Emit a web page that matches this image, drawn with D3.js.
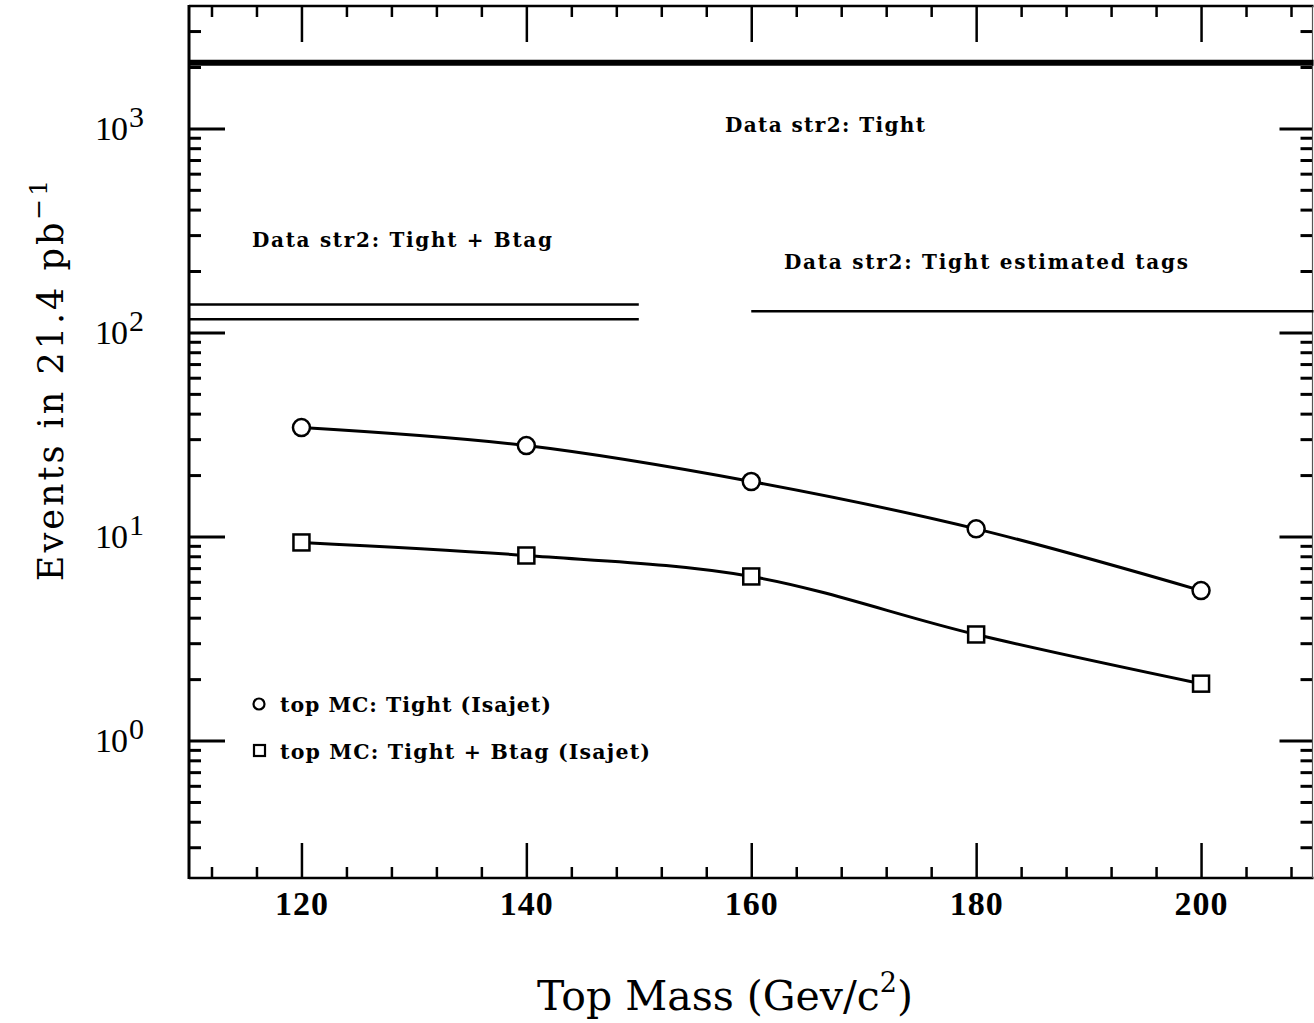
<!DOCTYPE html>
<html>
<head>
<meta charset="utf-8">
<script src="https://cdn.jsdelivr.net/npm/d3@7"></script>
<style>
  html, body { margin: 0; padding: 0; background: #fff; }
  svg { display: block; }
</style>
</head>
<body>
<svg id="chart" width="1314" height="1023"></svg>
<script>
// ---------------- DATA ----------------
const topMass = [120, 140, 160, 180, 200];
const tightMC = [34.2, 27.9, 18.6, 10.9, 5.43];          // circles: top MC Tight (Isajet)
const tightBtagMC = [9.35, 8.07, 6.37, 3.31, 1.90];      // squares: top MC Tight + Btag (Isajet)
const dataTightLevel = [2100];                           // Data str2: Tight (full range)
const dataTightBtagLevels = [137, 116];                  // Data str2: Tight + Btag (110-150)
const dataTightBtagRange = [110, 150];
const dataEstTagsLevel = [127];                          // Data str2: Tight estimated tags (160-210)
const dataEstTagsRange = [160, 210];
const xMajorTicks = [120, 140, 160, 180, 200];
const xMinorTicks = [112, 116, 124, 128, 132, 136, 144, 148, 152, 156, 164, 168, 172, 176, 184, 188, 192, 196, 204, 208];
const yMajorTicks = [1, 10, 100, 1000];
const yMajorExponents = ["0", "1", "2", "3"];
const yMinorTicks = [0.3, 0.4, 0.5, 0.6, 0.7, 0.8, 0.9, 2, 3, 4, 5, 6, 7, 8, 9,
                     20, 30, 40, 50, 60, 70, 80, 90, 200, 300, 400, 500, 600, 700, 800, 900, 2000, 3000];

// ---------------- LAYOUT ----------------
const svg = d3.select("#chart");
const L = 189, R = 1313.5, T = 6, B = 878;
const x = d3.scaleLinear().domain([110, 210]).range([L, R]);
const y = d3.scaleLog().domain([0.212, 3980]).range([B, T]);

const numFont = "'Liberation Serif', 'Times New Roman', serif";
const titleFont = "'DejaVu Serif', serif";

// ---------------- AXES (inward ticks) ----------------
function styleAxis(g, w) {
  g.select(".domain").remove();
  g.selectAll(".tick line").attr("stroke", "#000").attr("stroke-width", w);
}
// bottom
svg.append("g").attr("transform", `translate(0,${B})`)
  .call(d3.axisBottom(x).tickValues(xMajorTicks).tickSize(-35).tickPadding(14).tickFormat(d3.format("d")))
  .call(g => { styleAxis(g, 2.5);
    g.selectAll("text").attr("font-family", numFont).attr("font-weight", "bold")
      .attr("font-size", 34).attr("fill", "#000").attr("dy", "0.69em").attr("letter-spacing", 1); });
svg.append("g").attr("transform", `translate(0,${B})`)
  .call(d3.axisBottom(x).tickValues(xMinorTicks).tickSize(-11).tickFormat(""))
  .call(g => styleAxis(g, 2.5));
// top
svg.append("g").attr("transform", `translate(0,${T})`)
  .call(d3.axisTop(x).tickValues(xMajorTicks).tickSize(-36).tickFormat(""))
  .call(g => styleAxis(g, 2.5));
svg.append("g").attr("transform", `translate(0,${T})`)
  .call(d3.axisTop(x).tickValues(xMinorTicks).tickSize(-11).tickFormat(""))
  .call(g => styleAxis(g, 2.5));
// left
svg.append("g").attr("transform", `translate(${L},0)`)
  .call(d3.axisLeft(y).tickValues(yMajorTicks).tickSize(-36).tickFormat(""))
  .call(g => styleAxis(g, 3));
svg.append("g").attr("transform", `translate(${L},0)`)
  .call(d3.axisLeft(y).tickValues(yMinorTicks).tickSize(-12).tickFormat(""))
  .call(g => styleAxis(g, 3));
// right
svg.append("g").attr("transform", `translate(${R - 1},0)`)
  .call(d3.axisRight(y).tickValues(yMajorTicks).tickSize(-33).tickFormat(""))
  .call(g => styleAxis(g, 3));
svg.append("g").attr("transform", `translate(${R - 1},0)`)
  .call(d3.axisRight(y).tickValues(yMinorTicks).tickSize(-12).tickFormat(""))
  .call(g => styleAxis(g, 3));

// frame
svg.append("line").attr("x1", L).attr("x2", L).attr("y1", T - 1).attr("y2", B + 1).attr("stroke", "#000").attr("stroke-width", 3);
svg.append("line").attr("x1", L).attr("x2", R).attr("y1", T).attr("y2", T).attr("stroke", "#000").attr("stroke-width", 2.5);
svg.append("line").attr("x1", L).attr("x2", R).attr("y1", B).attr("y2", B).attr("stroke", "#000").attr("stroke-width", 2.5);
svg.append("line").attr("x1", R - 1).attr("x2", R - 1).attr("y1", T).attr("y2", B).attr("stroke", "#555").attr("stroke-width", 1.2);

// y tick labels 10^n
yMajorTicks.forEach((v, i) => {
  const t = svg.append("text").attr("x", 95).attr("y", y(v) + 11.5)
    .attr("text-anchor", "start").attr("font-family", numFont).attr("fill", "#000");
  t.append("tspan").attr("font-size", 34).attr("letter-spacing", -1).text("10");
  t.append("tspan").attr("font-size", 30).attr("dx", 2).attr("dy", -13).text(yMajorExponents[i]);
});

// axis titles
const xt = svg.append("text").attr("x", 725).attr("y", 1010).attr("text-anchor", "middle")
  .attr("font-family", titleFont).attr("font-size", 41).attr("fill", "#000");
xt.append("tspan").text("Top Mass (Gev/c");
xt.append("tspan").attr("font-size", 27).attr("dy", -18).text("2");
xt.append("tspan").attr("dy", 18).text(")");

const yt = svg.append("text").attr("transform", `translate(63,379) rotate(-90)`).attr("text-anchor", "middle")
  .attr("font-family", titleFont).attr("font-size", 35).attr("letter-spacing", 3).attr("fill", "#000");
yt.append("tspan").text("Events in 21.4 pb");
yt.append("tspan").attr("font-size", 25).attr("dy", -16).text("\u22121");

// ---------------- DATA LEVEL LINES ----------------
svg.append("line").attr("x1", x(110)).attr("x2", x(210))
  .attr("y1", y(dataTightLevel[0])).attr("y2", y(dataTightLevel[0]))
  .attr("stroke", "#000").attr("stroke-width", 6);
dataTightBtagLevels.forEach(v => {
  svg.append("line").attr("x1", x(dataTightBtagRange[0])).attr("x2", x(dataTightBtagRange[1]))
    .attr("y1", y(v)).attr("y2", y(v)).attr("stroke", "#000").attr("stroke-width", 2.5);
});
svg.append("line").attr("x1", x(dataEstTagsRange[0])).attr("x2", x(dataEstTagsRange[1]))
  .attr("y1", y(dataEstTagsLevel[0])).attr("y2", y(dataEstTagsLevel[0]))
  .attr("stroke", "#000").attr("stroke-width", 2.5);

// annotation labels
const annFont = "'DejaVu Serif', serif";
function ann(xp, yp, txt, len, fs) {
  svg.append("text").attr("x", xp).attr("y", yp).attr("font-family", annFont)
    .attr("font-weight", "bold").attr("font-size", fs).attr("fill", "#000")
    .attr("textLength", len).attr("lengthAdjust", "spacing").text(txt);
}
ann(725, 132, "Data str2: Tight", 200, 20);
ann(252, 247, "Data str2: Tight + Btag", 300, 20);
ann(784, 269, "Data str2: Tight estimated tags", 404, 20);

// ---------------- MC CURVES ----------------
const line = d3.line().x(d => x(d[0])).y(d => y(d[1])).curve(d3.curveCatmullRom.alpha(0.5));
const circ = topMass.map((m, i) => [m, tightMC[i]]);
const sq = topMass.map((m, i) => [m, tightBtagMC[i]]);
svg.append("path").attr("d", line(circ)).attr("fill", "none").attr("stroke", "#000").attr("stroke-width", 3);
svg.append("path").attr("d", line(sq)).attr("fill", "none").attr("stroke", "#000").attr("stroke-width", 3);

svg.selectAll(".circ").data(circ).join("circle")
  .attr("cx", d => x(d[0])).attr("cy", d => y(d[1])).attr("r", 8.5)
  .attr("fill", "#fff").attr("stroke", "#000").attr("stroke-width", 2.5);
svg.selectAll(".sq").data(sq).join("rect")
  .attr("x", d => x(d[0]) - 8).attr("y", d => y(d[1]) - 8).attr("width", 16).attr("height", 16)
  .attr("fill", "#fff").attr("stroke", "#000").attr("stroke-width", 2.5);

// ---------------- LEGEND ----------------
svg.append("circle").attr("cx", 259).attr("cy", 704).attr("r", 5.5)
  .attr("fill", "#fff").attr("stroke", "#000").attr("stroke-width", 2.2);
svg.append("rect").attr("x", 254).attr("y", 745).attr("width", 11).attr("height", 11)
  .attr("fill", "#fff").attr("stroke", "#000").attr("stroke-width", 2.2);
function leg(yp, txt, len) {
  svg.append("text").attr("x", 280).attr("y", yp).attr("font-family", annFont)
    .attr("font-weight", "bold").attr("font-size", 20.5).attr("fill", "#000")
    .attr("textLength", len).attr("lengthAdjust", "spacing").text(txt);
}
leg(712, "top MC: Tight (Isajet)", 271);
leg(759, "top MC: Tight + Btag (Isajet)", 370);
</script>
</body>
</html>
